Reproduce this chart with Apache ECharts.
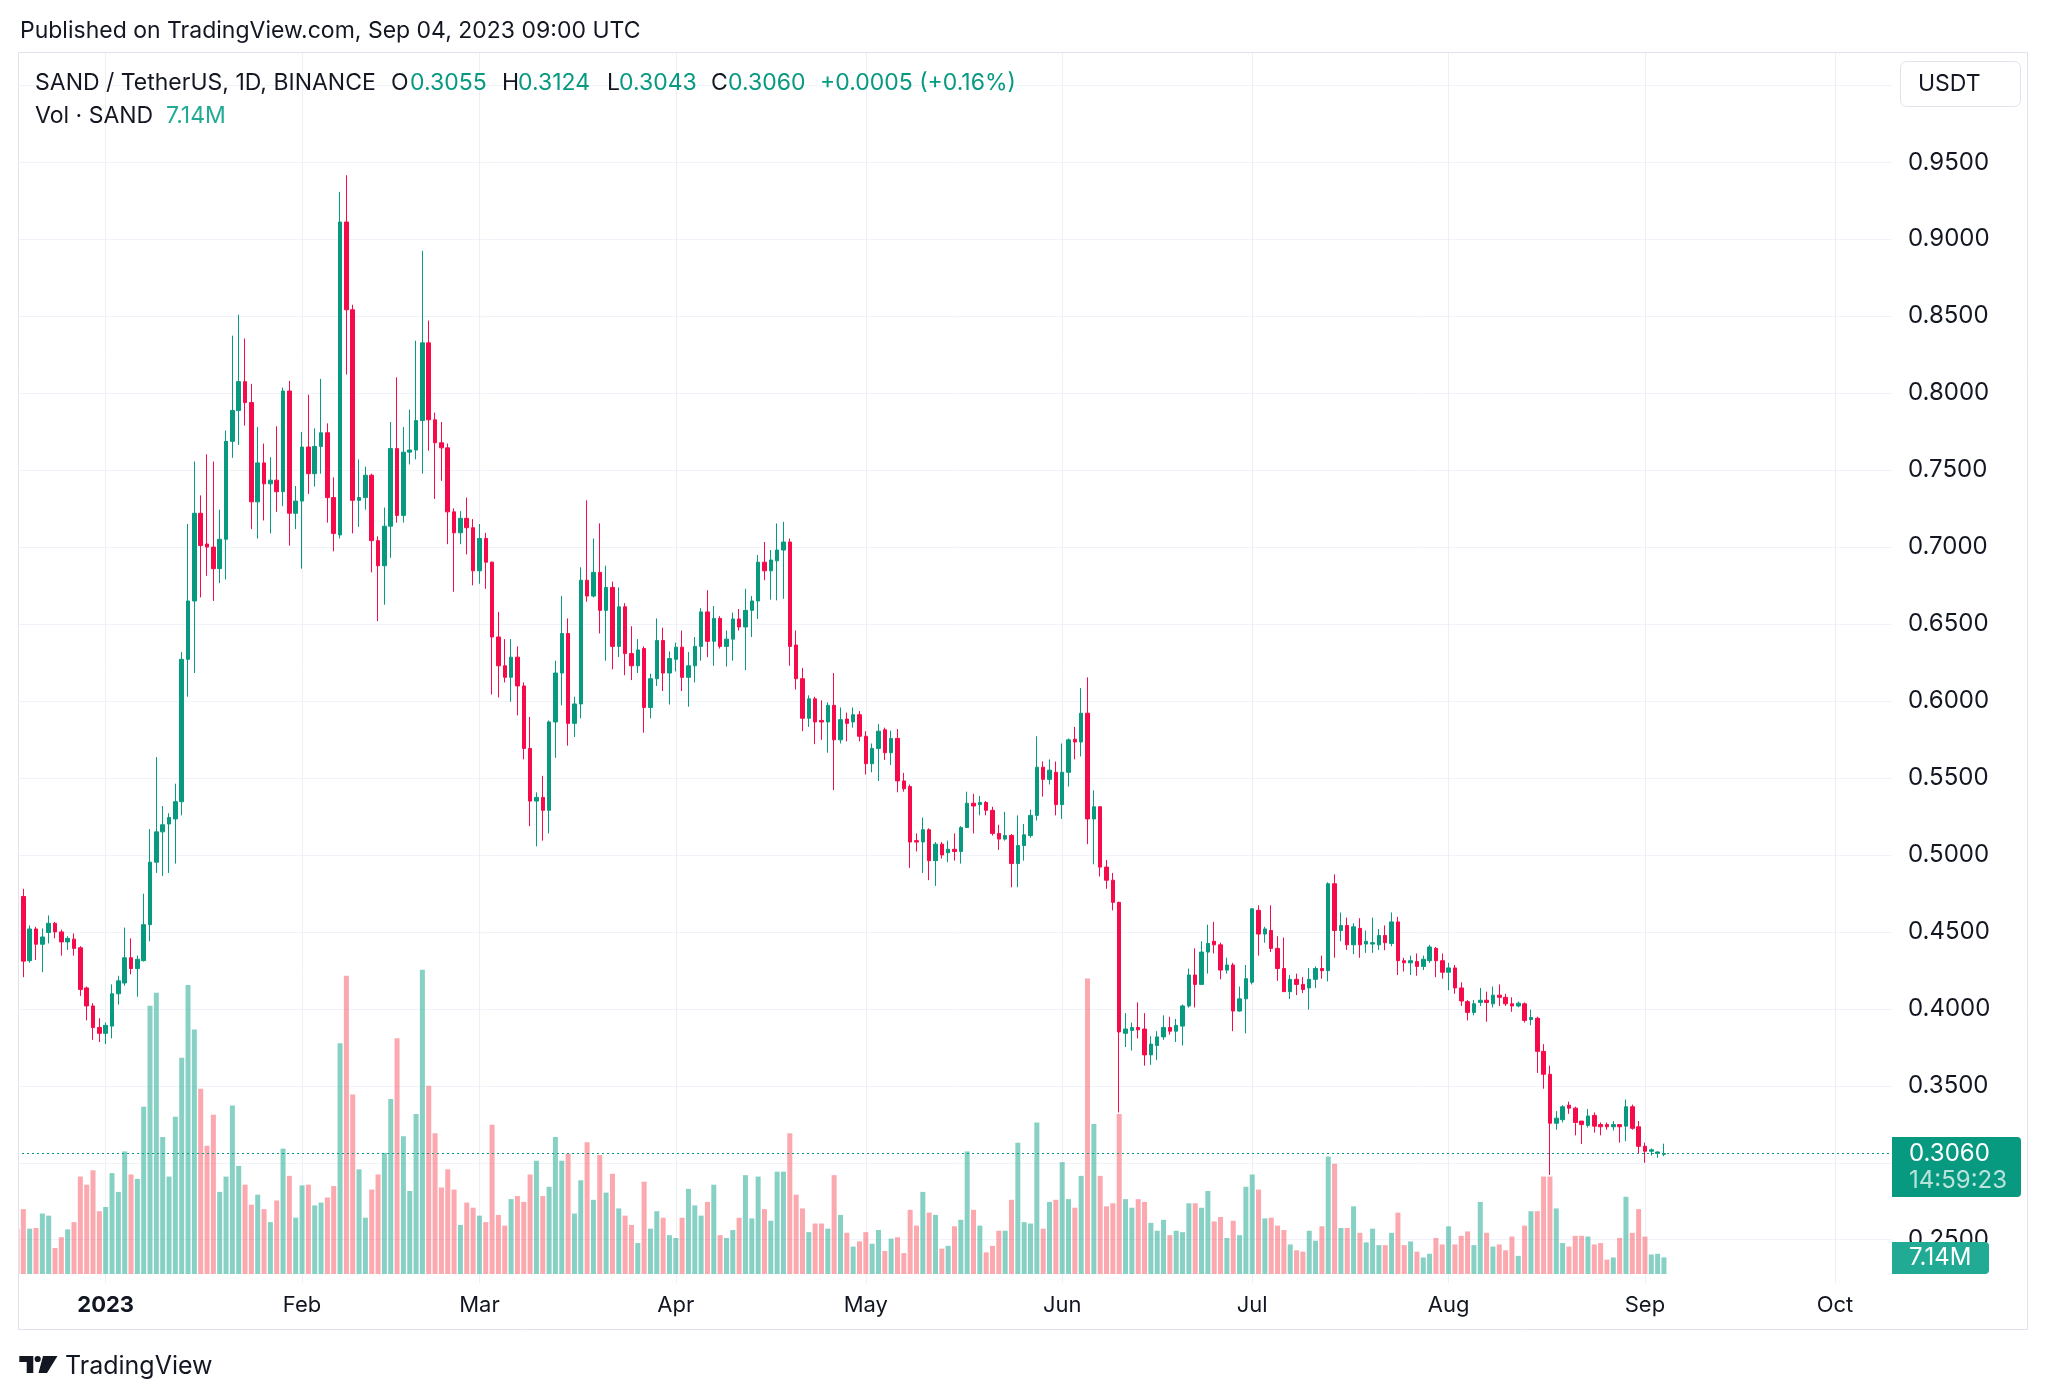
<!DOCTYPE html>
<html>
<head>
<meta charset="utf-8">
<script src="https://cdn.jsdelivr.net/npm/echarts@6/dist/echarts.min.js"></script>
<style>
html,body{margin:0;padding:0;background:#ffffff;}
#c{width:2048px;height:1399px;}
</style>
</head>
<body>
<div id="c"></div>
<script>
// ---------- DATA ----------
const firstDay = '2022-12-18';
const dayCount = 297; // Dec 18 2022 .. Oct 10 2023 (axis span)

// daily candles: [open, close, low, high], starting 2022-12-18
const ohlc = [
[0.4804,0.4720,0.4700,0.4810],
[0.4730,0.4310,0.4206,0.4780],
[0.4313,0.4519,0.4300,0.4542],
[0.4519,0.4420,0.4318,0.4533],
[0.4420,0.4467,0.4238,0.4523],
[0.4496,0.4556,0.4425,0.4607],
[0.4556,0.4500,0.4458,0.4565],
[0.4500,0.4435,0.4346,0.4514],
[0.4435,0.4458,0.4383,0.4472],
[0.4453,0.4393,0.4346,0.4490],
[0.4397,0.4126,0.4084,0.4407],
[0.4136,0.4019,0.3925,0.4145],
[0.4019,0.3879,0.3799,0.4037],
[0.3879,0.3841,0.3785,0.3939],
[0.3841,0.3893,0.3771,0.3911],
[0.3888,0.4098,0.3808,0.4159],
[0.4098,0.4182,0.4028,0.4215],
[0.4168,0.4332,0.4150,0.4528],
[0.4332,0.4262,0.4224,0.4458],
[0.4262,0.4322,0.4079,0.4346],
[0.4313,0.4547,0.4308,0.4748],
[0.4547,0.4953,0.4439,0.5168],
[0.4953,0.5150,0.4883,0.5636],
[0.5150,0.5196,0.4864,0.5318],
[0.5201,0.5243,0.4883,0.5271],
[0.5234,0.5346,0.4944,0.5463],
[0.5346,0.6271,0.5257,0.6318],
[0.6271,0.6650,0.6028,0.7150],
[0.6650,0.7220,0.6182,0.7556],
[0.7220,0.7010,0.6673,0.7336],
[0.7020,0.7000,0.6813,0.7603],
[0.7000,0.6860,0.6650,0.7556],
[0.6860,0.7051,0.6766,0.7243],
[0.7051,0.7687,0.6790,0.7757],
[0.7687,0.7888,0.7580,0.8374],
[0.7888,0.8075,0.7664,0.8510],
[0.8075,0.7939,0.7790,0.8355],
[0.7939,0.7294,0.7117,0.8061],
[0.7294,0.7547,0.7056,0.7780],
[0.7547,0.7411,0.7173,0.7673],
[0.7411,0.7435,0.7089,0.7584],
[0.7435,0.7360,0.7229,0.7785],
[0.7360,0.8014,0.7266,0.8037],
[0.8014,0.7220,0.7010,0.8080],
[0.7220,0.7299,0.7117,0.7397],
[0.7299,0.7650,0.6860,0.7748],
[0.7650,0.7477,0.7346,0.7990],
[0.7477,0.7654,0.7393,0.7771],
[0.7654,0.7743,0.7477,0.8093],
[0.7743,0.7322,0.7159,0.7804],
[0.7322,0.7089,0.6972,0.7453],
[0.7079,0.9112,0.7056,0.9308],
[0.9112,0.8542,0.8121,0.9416],
[0.8542,0.7304,0.7089,0.8575],
[0.7304,0.7322,0.7131,0.7570],
[0.7322,0.7467,0.7243,0.7523],
[0.7467,0.7042,0.6836,0.7477],
[0.7042,0.6879,0.6519,0.7070],
[0.6879,0.7136,0.6626,0.7257],
[0.7136,0.7640,0.6930,0.7813],
[0.7640,0.7206,0.7159,0.8103],
[0.7206,0.7617,0.7159,0.7780],
[0.7617,0.7631,0.7537,0.7893],
[0.7631,0.7822,0.7570,0.8341],
[0.7822,0.8327,0.7477,0.8925],
[0.8327,0.7827,0.7626,0.8472],
[0.7827,0.7678,0.7313,0.7874],
[0.7678,0.7645,0.7430,0.7813],
[0.7645,0.7229,0.7019,0.7673],
[0.7229,0.7093,0.6710,0.7252],
[0.7093,0.7187,0.7019,0.7234],
[0.7187,0.7126,0.6953,0.7322],
[0.7126,0.6846,0.6752,0.7182],
[0.6846,0.7056,0.6762,0.7150],
[0.7056,0.6902,0.6729,0.7093],
[0.6902,0.6416,0.6042,0.6907],
[0.6416,0.6229,0.6023,0.6579],
[0.6229,0.6154,0.6121,0.6402],
[0.6154,0.6285,0.5995,0.6402],
[0.6285,0.6098,0.5907,0.6355],
[0.6098,0.5692,0.5621,0.6121],
[0.5692,0.5350,0.5187,0.5897],
[0.5350,0.5374,0.5056,0.5407],
[0.5374,0.5290,0.5093,0.5514],
[0.5290,0.5864,0.5140,0.5874],
[0.5864,0.6182,0.5631,0.6262],
[0.6182,0.6439,0.5972,0.6682],
[0.6439,0.5855,0.5710,0.6537],
[0.5855,0.5981,0.5766,0.6028],
[0.5981,0.6785,0.5888,0.6869],
[0.6785,0.6682,0.6645,0.7304],
[0.6682,0.6836,0.6673,0.7056],
[0.6836,0.6589,0.6439,0.7154],
[0.6589,0.6738,0.6262,0.6879],
[0.6738,0.6355,0.6206,0.6776],
[0.6355,0.6612,0.6285,0.6738],
[0.6612,0.6308,0.6168,0.6636],
[0.6308,0.6229,0.6136,0.6486],
[0.6229,0.6332,0.6182,0.6402],
[0.6341,0.5958,0.5794,0.6355],
[0.5958,0.6145,0.5888,0.6178],
[0.6145,0.6393,0.6098,0.6537],
[0.6393,0.6182,0.6065,0.6477],
[0.6182,0.6276,0.5977,0.6322],
[0.6271,0.6350,0.6192,0.6379],
[0.6350,0.6154,0.6065,0.6458],
[0.6154,0.6229,0.5963,0.6318],
[0.6229,0.6355,0.6121,0.6416],
[0.6355,0.6579,0.6262,0.6603],
[0.6579,0.6388,0.6285,0.6720],
[0.6388,0.6537,0.6229,0.6617],
[0.6537,0.6355,0.6341,0.6551],
[0.6355,0.6402,0.6224,0.6458],
[0.6402,0.6533,0.6262,0.6575],
[0.6533,0.6481,0.6458,0.6598],
[0.6481,0.6589,0.6201,0.6729],
[0.6589,0.6650,0.6416,0.6682],
[0.6650,0.6902,0.6533,0.6949],
[0.6902,0.6846,0.6785,0.7033],
[0.6846,0.6916,0.6659,0.6981],
[0.6911,0.6981,0.6654,0.7154],
[0.6981,0.7033,0.6664,0.7164],
[0.7033,0.6355,0.6229,0.7056],
[0.6364,0.6145,0.6075,0.6458],
[0.6145,0.5888,0.5804,0.6215],
[0.5888,0.6014,0.5832,0.6037],
[0.6014,0.5864,0.5720,0.6028],
[0.5874,0.5864,0.5748,0.6005],
[0.5864,0.5972,0.5664,0.5991],
[0.5972,0.5748,0.5421,0.6182],
[0.5748,0.5879,0.5724,0.5958],
[0.5883,0.5855,0.5738,0.5925],
[0.5864,0.5911,0.5827,0.5958],
[0.5911,0.5771,0.5738,0.5935],
[0.5771,0.5593,0.5523,0.5804],
[0.5593,0.5692,0.5537,0.5724],
[0.5692,0.5804,0.5481,0.5850],
[0.5813,0.5664,0.5617,0.5827],
[0.5664,0.5757,0.5584,0.5808],
[0.5757,0.5481,0.5407,0.5818],
[0.5481,0.5430,0.5411,0.5533],
[0.5444,0.5084,0.4916,0.5458],
[0.5093,0.5084,0.5023,0.5140],
[0.5084,0.5164,0.4883,0.5243],
[0.5164,0.4963,0.4836,0.5173],
[0.4963,0.5070,0.4799,0.5084],
[0.5070,0.5000,0.4977,0.5084],
[0.5014,0.5037,0.4953,0.5093],
[0.5037,0.5023,0.4963,0.5140],
[0.5023,0.5178,0.4944,0.5187],
[0.5178,0.5336,0.5178,0.5411],
[0.5336,0.5318,0.5140,0.5397],
[0.5327,0.5341,0.5257,0.5383],
[0.5341,0.5290,0.5257,0.5350],
[0.5290,0.5140,0.5126,0.5313],
[0.5140,0.5103,0.5033,0.5196],
[0.5103,0.5126,0.5093,0.5280],
[0.5126,0.4944,0.4790,0.5136],
[0.4944,0.5061,0.4790,0.5257],
[0.5061,0.5131,0.4963,0.5201],
[0.5126,0.5257,0.5112,0.5294],
[0.5257,0.5570,0.5224,0.5771],
[0.5570,0.5491,0.5379,0.5607],
[0.5491,0.5551,0.5458,0.5621],
[0.5537,0.5327,0.5257,0.5607],
[0.5327,0.5537,0.5234,0.5724],
[0.5537,0.5748,0.5444,0.5757],
[0.5752,0.5734,0.5621,0.5832],
[0.5734,0.5921,0.5640,0.6084],
[0.5921,0.5234,0.5070,0.6154],
[0.5234,0.5313,0.4939,0.5420],
[0.5313,0.4921,0.4860,0.5318],
[0.4921,0.4836,0.4780,0.4967],
[0.4836,0.4692,0.4640,0.4883],
[0.4692,0.3850,0.3327,0.4696],
[0.3841,0.3869,0.3752,0.3972],
[0.3860,0.3879,0.3729,0.3911],
[0.3879,0.3864,0.3808,0.4042],
[0.3869,0.3701,0.3631,0.3972],
[0.3701,0.3771,0.3636,0.3822],
[0.3762,0.3818,0.3668,0.3855],
[0.3818,0.3879,0.3799,0.3958],
[0.3879,0.3855,0.3832,0.3949],
[0.3855,0.3893,0.3785,0.3935],
[0.3888,0.4019,0.3762,0.4028],
[0.4019,0.4220,0.4009,0.4262],
[0.4220,0.4159,0.4009,0.4393],
[0.4159,0.4369,0.4159,0.4439],
[0.4369,0.4425,0.4229,0.4547],
[0.4439,0.4416,0.4360,0.4565],
[0.4416,0.4252,0.4192,0.4430],
[0.4252,0.4285,0.4229,0.4332],
[0.4285,0.3986,0.3855,0.4299],
[0.3986,0.4065,0.3981,0.4145],
[0.4065,0.4196,0.3841,0.4285],
[0.4173,0.4650,0.4159,0.4655],
[0.4640,0.4486,0.4346,0.4673],
[0.4486,0.4519,0.4430,0.4533],
[0.4509,0.4393,0.4369,0.4673],
[0.4393,0.4262,0.4182,0.4472],
[0.4262,0.4112,0.4112,0.4463],
[0.4112,0.4192,0.4065,0.4220],
[0.4192,0.4159,0.4089,0.4229],
[0.4159,0.4126,0.4103,0.4206],
[0.4136,0.4192,0.3995,0.4266],
[0.4192,0.4262,0.4136,0.4276],
[0.4262,0.4248,0.4196,0.4346],
[0.4248,0.4813,0.4178,0.4822],
[0.4813,0.4509,0.4332,0.4874],
[0.4509,0.4542,0.4439,0.4626],
[0.4542,0.4416,0.4383,0.4593],
[0.4416,0.4533,0.4355,0.4556],
[0.4523,0.4416,0.4332,0.4589],
[0.4421,0.4439,0.4364,0.4509],
[0.4421,0.4430,0.4364,0.4593],
[0.4416,0.4477,0.4383,0.4519],
[0.4477,0.4430,0.4381,0.4542],
[0.4425,0.4565,0.4407,0.4626],
[0.4565,0.4313,0.4220,0.4598],
[0.4313,0.4299,0.4243,0.4332],
[0.4299,0.4313,0.4220,0.4346],
[0.4308,0.4276,0.4215,0.4360],
[0.4276,0.4322,0.4252,0.4346],
[0.4313,0.4402,0.4299,0.4416],
[0.4393,0.4313,0.4206,0.4402],
[0.4313,0.4238,0.4196,0.4360],
[0.4238,0.4266,0.4121,0.4299],
[0.4266,0.4136,0.4098,0.4285],
[0.4136,0.4051,0.4019,0.4173],
[0.4047,0.3977,0.3925,0.4057],
[0.3977,0.4033,0.3958,0.4057],
[0.4042,0.4056,0.4019,0.4136],
[0.4056,0.4042,0.3916,0.4112],
[0.4033,0.4089,0.4009,0.4145],
[0.4089,0.4075,0.4019,0.4159],
[0.4075,0.4033,0.4019,0.4098],
[0.4033,0.4019,0.3981,0.4075],
[0.4019,0.4037,0.4010,0.4047],
[0.4033,0.3925,0.3911,0.4042],
[0.3930,0.3944,0.3893,0.3995],
[0.3939,0.3724,0.3584,0.3949],
[0.3724,0.3575,0.3481,0.3771],
[0.3575,0.3257,0.2921,0.3631],
[0.3257,0.3290,0.3215,0.3336],
[0.3280,0.3364,0.3262,0.3374],
[0.3374,0.3355,0.3318,0.3397],
[0.3355,0.3262,0.3178,0.3364],
[0.3271,0.3248,0.3122,0.3271],
[0.3243,0.3304,0.3229,0.3350],
[0.3308,0.3238,0.3196,0.3327],
[0.3248,0.3234,0.3178,0.3262],
[0.3248,0.3234,0.3215,0.3262],
[0.3234,0.3248,0.3210,0.3271],
[0.3248,0.3234,0.3131,0.3248],
[0.3238,0.3364,0.3140,0.3411],
[0.3364,0.3224,0.3215,0.3378],
[0.3234,0.3107,0.3061,0.3271],
[0.3107,0.3075,0.3000,0.3131],
[0.3075,0.3084,0.3047,0.3093],
[0.3061,0.3070,0.3033,0.3075],
[0.3055,0.3060,0.3043,0.3124]
];

// daily volume in millions of SAND, same days as ohlc
const volumes = [
19.5,27.9,19.5,19.8,26.0,25.1,11.2,15.8,19.2,22.3,41.9,38.4,44.6,27.0,
28.8,43.4,35.3,52.7,42.8,40.9,71.9,115.3,120.9,58.9,41.9,67.6,93.0,124.3,105.1,79.7,55.2,68.5,35.3,41.9,
72.5,46.5,38.4,29.8,34.1,27.9,22.3,31.6,53.9,42.2,
24.2,38.1,38.4,29.5,30.7,32.9,37.8,99.2,128.3,77.2,
45.0,24.2,36.3,42.8,52.1,75.3,101.4,59.2,35.7,68.8,
130.8,80.9,60.5,37.2,45.0,36.3,21.1,30.7,28.5,25.1,
22.3,64.2,25.4,20.8,32.2,33.5,31.0,42.8,48.7,33.5,
37.5,58.9,48.7,51.8,26.0,40.3,56.7,31.9,51.2,35.0,
43.1,28.2,25.1,21.1,13.3,39.7,19.5,27.0,24.2,16.7,
15.5,24.2,36.6,29.5,25.1,31.0,38.4,16.7,15.5,18.9,
24.2,42.5,23.9,41.9,27.9,22.9,44.0,44.0,60.5,34.1,
28.2,18.0,21.7,21.7,19.5,42.5,25.4,17.7,11.8,14.0,
18.0,13.0,18.9,9.9,15.2,15.8,9.0,27.6,20.8,35.3,
26.4,25.4,10.9,12.1,20.5,23.3,52.7,27.6,20.8,9.3,
12.1,18.6,18.6,31.9,56.4,22.3,21.7,65.1,19.5,31.0,
31.9,48.1,32.2,28.5,42.2,127.1,64.5,42.2,29.1,30.4,
68.8,32.2,28.5,32.2,31.0,22.0,18.6,23.3,16.7,18.6,
18.0,30.4,30.4,28.5,35.7,22.6,24.5,15.5,22.9,16.7,
37.5,42.8,36.3,23.9,24.2,20.8,18.9,12.7,10.2,9.6,
18.6,14.3,20.5,50.5,47.4,19.8,19.8,29.1,17.7,13.6,
19.5,12.4,12.4,17.7,26.4,12.4,14.0,9.6,7.1,8.7,
15.5,12.7,20.5,12.7,16.4,18.3,12.4,31.0,17.7,11.8,
12.7,10.2,16.1,7.8,20.8,27.0,27.0,41.9,41.9,28.2,
13.3,11.8,16.4,16.4,16.1,12.7,13.3,6.2,7.1,15.5,
33.2,17.7,27.9,16.1,8.4,8.7,7.14
];

const monthNames = {'01':'2023','02':'Feb','03':'Mar','04':'Apr','05':'May','06':'Jun','07':'Jul','08':'Aug','09':'Sep','10':'Oct','11':'Nov','12':'Dec'};
const legendTitle = 'SAND / TetherUS, 1D, BINANCE';
const lastBar = {open:'0.3055', high:'0.3124', low:'0.3043', close:'0.3060', change:'+0.0005 (+0.16%)'};
const lastVolume = '7.14M';
const lastClose = 0.3060;
const countdown = '14:59:23';

// ---------- CHART ----------
const FONT = 'Inter, Roboto, "Noto Sans", sans-serif';
const UP = '#089981', DOWN = '#f70a4a';
const VOL_UP = 'rgba(34,171,148,0.55)', VOL_DOWN = 'rgba(247,82,95,0.5)';
const TXT = '#131722';

const dates = [];
(function(){
  const t0 = Date.parse(firstDay + 'T00:00:00Z');
  for (let i = 0; i < dayCount; i++) dates.push(new Date(t0 + i*86400000).toISOString().slice(0,10));
})();
const isMonthStart = (idx, val) => typeof val === 'string' && val.slice(8,10) === '01';

const volData = volumes.map((v,i) => ({
  value: v,
  itemStyle: {color: ohlc[i][1] >= ohlc[i][0] ? VOL_UP : VOL_DOWN}
}));

const L = 17, R = 2048 - 1892;
const chart = echarts.init(document.getElementById('c'), null, {renderer:'canvas', width:2048, height:1399});

function txt(text, x, y, color, size, align) {
  return {type:'text', z:100, style:{text:text, x:x, y:y, fill:color, fontSize:size, fontFamily:FONT, verticalAlign:'middle', align:align||'left'}};
}

const option = {
  animation: false,
  backgroundColor: '#ffffff',
  grid: [
    {left:L, right:R, top:8.4, bottom:82.3},     // price scale
    {left:L, right:R, top:52, bottom:116},       // pane / time axis
    {left:L, right:R, bottom:125, height:400}    // volume overlay
  ],
  xAxis: [
    {type:'category', gridIndex:0, data:dates, boundaryGap:false, show:false},
    {type:'category', gridIndex:1, data:dates, boundaryGap:false,
      axisLine:{show:false}, axisTick:{show:false},
      axisLabel:{interval:isMonthStart, color:TXT, fontSize:22, fontFamily:FONT, margin:11,
        formatter:(v)=>{const m=v.slice(5,7); return m==='01' ? '{b|'+monthNames[m]+'}' : monthNames[m];},
        rich:{b:{fontWeight:'bold', fontSize:22, fontFamily:FONT, color:TXT}}},
      splitLine:{show:true, interval:isMonthStart, lineStyle:{color:'#eef0f5', width:1}}},
    {type:'category', gridIndex:2, data:dates, boundaryGap:false, show:false}
  ],
  yAxis: [
    {type:'value', gridIndex:0, position:'right', min:0.20, max:1.05, interval:0.05,
      axisLine:{show:false}, axisTick:{show:false},
      axisLabel:{showMinLabel:false, showMaxLabel:false, formatter:(v)=>v.toFixed(4), color:TXT, fontSize:24, fontFamily:FONT, margin:16},
      splitLine:{show:true, showMinLine:false, showMaxLine:false, lineStyle:{color:'#f0f3fa', width:1}}},
    {type:'value', gridIndex:1, show:false, min:0, max:1},
    {type:'value', gridIndex:2, show:false, min:0, max:172}
  ],
  series: [
    {type:'bar', name:'Volume', xAxisIndex:2, yAxisIndex:2, data:volData, barWidth:5, z:1, silent:true},
    {type:'candlestick', name:'SAND/USDT', xAxisIndex:0, yAxisIndex:0, data:ohlc, barWidth:4, z:5,
      itemStyle:{color:UP, color0:DOWN, borderColor:UP, borderColor0:DOWN, borderWidth:1},
      markLine:{silent:true, precision:4, symbol:['none','none'], label:{show:false},
        lineStyle:{color:UP, type:[2,3], width:1}, data:[{yAxis:lastClose}]}}
  ],
  graphic: [
    {type:'rect', z:50, shape:{x:0, y:52, width:18.5, height:1278}, style:{fill:'#ffffff'}},
    {type:'rect', z:99, shape:{x:18.5, y:52.5, width:2009, height:1277}, style:{fill:'none', stroke:'#e0e3eb', lineWidth:1}},
    txt('Published on TradingView.com, Sep 04, 2023 09:00 UTC', 20, 31, TXT, 23),
    txt(legendTitle, 35, 83, TXT, 23),
    txt('O', 391, 83, TXT, 23), txt(lastBar.open, 410, 83, UP, 23),
    txt('H', 502, 83, TXT, 23), txt(lastBar.high, 518, 83, UP, 23),
    txt('L', 607, 83, TXT, 23), txt(lastBar.low, 619, 83, UP, 23),
    txt('C', 711, 83, TXT, 23), txt(lastBar.close, 728, 83, UP, 23),
    txt(lastBar.change, 820, 83, UP, 23),
    txt('Vol · SAND', 35, 116, TXT, 23),
    txt(lastVolume, 166, 116, '#22ab94', 23),
    {type:'rect', z:100, shape:{x:1900.5, y:61.5, width:120, height:45, r:6}, style:{fill:'#ffffff', stroke:'#e0e3eb', lineWidth:1}},
    txt('USDT', 1918, 84, TXT, 23),
    {type:'rect', z:100, shape:{x:1892, y:1137, width:129, height:60, r:[0,4,4,0]}, style:{fill:UP}},
    txt(lastBar.close, 1909, 1154, '#ffffff', 24),
    txt(countdown, 1909, 1181, 'rgba(255,255,255,0.72)', 24),
    {type:'rect', z:100, shape:{x:1892, y:1242, width:97, height:32, r:[0,4,4,0]}, style:{fill:'#22ab94'}},
    txt(lastVolume, 1909, 1258, '#ffffff', 24),
    // TradingView logo
    {type:'polygon', z:100, shape:{points:[[19.3,1356],[33.3,1356],[33.3,1373],[26.7,1373],[26.7,1362],[19.3,1362]]}, style:{fill:TXT}},
    {type:'circle', z:100, shape:{cx:37.7, cy:1359, r:3.1}, style:{fill:TXT}},
    {type:'polygon', z:100, shape:{points:[[43,1356],[57.5,1356],[47,1373],[38.5,1373]]}, style:{fill:TXT}},
    txt('TradingView', 65, 1366, TXT, 25)
  ]
};
chart.setOption(option);
</script>
</body>
</html>
